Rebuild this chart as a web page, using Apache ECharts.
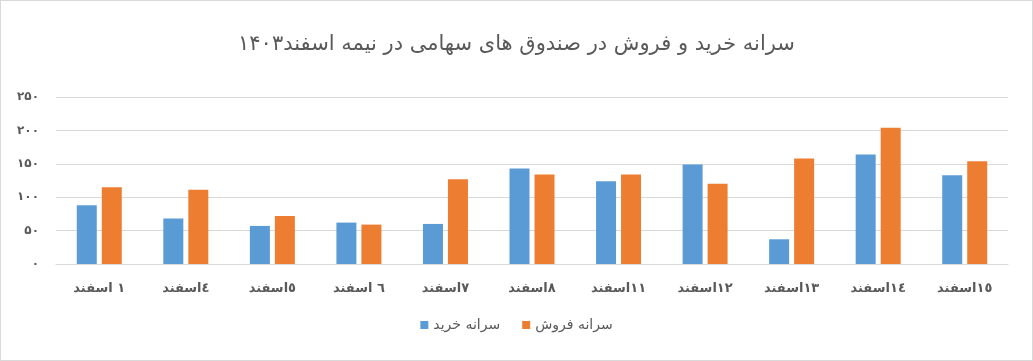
<!DOCTYPE html>
<html>
<head>
<meta charset="utf-8">
<script src="https://cdn.jsdelivr.net/npm/echarts@6/dist/echarts.min.js"></script>
<style>
html,body{margin:0;padding:0;background:#fff;}
#c{width:1033px;height:361px;box-sizing:border-box;border:1px solid #d9d9d9;}
</style>
</head>
<body>
<div id="c"></div>
<script>
const titleText = 'سرانه خرید و فروش در صندوق های سهامی در نیمه اسفند۱۴۰۳';
const categories = ['١ اسفند','٤اسفند','٥اسفند','٦ اسفند','٧اسفند','٨اسفند','١١اسفند','١٢اسفند','١٣اسفند','١٤اسفند','١٥اسفند'];
const buyName = 'سرانه خرید';
const sellName = 'سرانه فروش';
const buyValues = [88, 68, 57, 62, 60, 143, 124, 149, 37, 164, 133];
const sellValues = [115, 111, 72, 59, 127, 134, 134, 120, 158, 204, 154];
const yTickLabels = {0:'۰',50:'۵۰',100:'۱۰۰',150:'۱۵۰',200:'۲۰۰',250:'۲۵۰'};

const chart = echarts.init(document.getElementById('c'));
chart.setOption({
  animation: false,
  title: {
    text: titleText, left: 'center', top: 28,
    textStyle: {fontSize: 21, fontWeight: 'normal', color: '#595959', fontFamily: 'DejaVu Serif, DejaVu Sans, serif'}
  },
  legend: {
    bottom: 23, left: 'center', itemWidth: 8, itemHeight: 8, itemGap: 22, icon: 'rect',
    textStyle: {fontSize: 14, color: '#595959', fontFamily: 'DejaVu Sans, sans-serif'}
  },
  grid: {left: 55, right: 24, top: 96, bottom: 96},
  xAxis: {
    type: 'category', data: categories,
    axisLine: {show: true, lineStyle: {color: '#d9d9d9', width: 1}},
    axisTick: {show: false},
    axisLabel: {margin: 18, fontSize: 13, fontWeight: 'bold', color: '#595959', fontFamily: 'DejaVu Sans, sans-serif', interval: 0}
  },
  yAxis: {
    type: 'value', min: 0, max: 250, interval: 50,
    axisLine: {show: false}, axisTick: {show: false},
    splitLine: {lineStyle: {color: '#d9d9d9', width: 1}},
    axisLabel: {margin: 17, fontSize: 12, color: '#595959', fontWeight: 'bold', fontFamily: 'DejaVu Sans, sans-serif',
      formatter: v => yTickLabels[v] !== undefined ? yTickLabels[v] : String(v)}
  },
  series: [
    {name: buyName, type: 'bar', data: buyValues, barWidth: 20, barGap: '25%', itemStyle: {color: '#5b9bd5'}},
    {name: sellName, type: 'bar', data: sellValues, barWidth: 20, barGap: '25%', itemStyle: {color: '#ed7d31'}}
  ]
});
</script>
</body>
</html>
